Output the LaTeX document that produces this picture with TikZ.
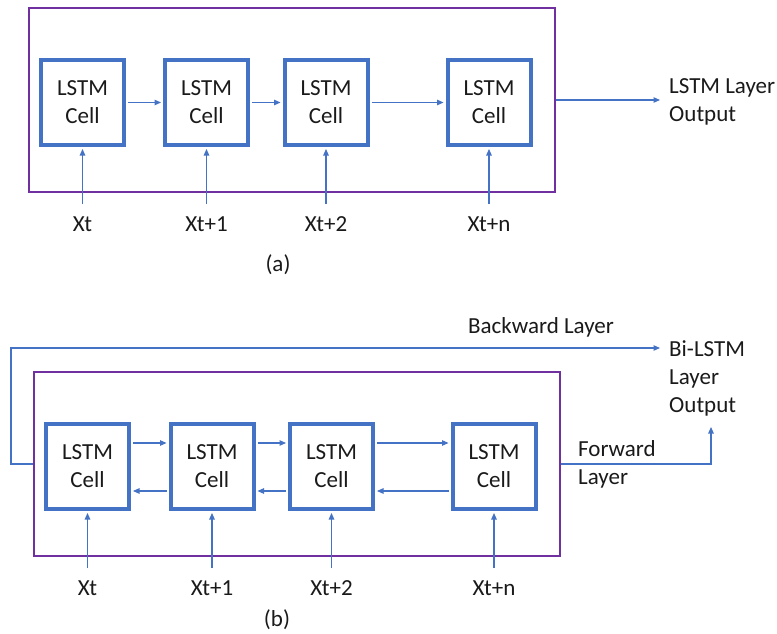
\documentclass[tikz,border=0pt]{standalone}
\usepackage{fontspec}
\setmainfont{Carlito}
\usetikzlibrary{arrows.meta}
\definecolor{cellblue}{HTML}{4472C4}
\definecolor{boxpurple}{HTML}{7030A0}
\definecolor{inkgray}{HTML}{1A1A1A}
\begin{document}
\begin{tikzpicture}[x=1pt,y=-1pt,
  font=\fontsize{23}{28}\selectfont,
  cellbox/.style={draw=cellblue, line width=4pt, minimum width=83pt,
    minimum height=85pt, align=center, inner sep=0pt, text=inkgray},
  layerbox/.style={draw=boxpurple, line width=1.8pt, minimum width=526pt,
    minimum height=184pt, inner sep=0pt},
  flow/.style={draw=cellblue, line width=1.2pt,
    -{Triangle[length=6.5pt,width=5.5pt]}},
  lbl/.style={text=inkgray, inner sep=0pt}]
\useasboundingbox[fill=white] (0,0) rectangle (777,634);

% ---------- (a) unidirectional LSTM layer ----------
\node[layerbox] (boxa) at (292,100) {};
\node[cellbox] (a1) at (82.5,102.5) {LSTM\\Cell};
\node[cellbox] (a2) at (206.5,102.5) {LSTM\\Cell};
\node[cellbox] (a3) at (326,102.5) {LSTM\\Cell};
\node[cellbox] (a4) at (489,102.5) {LSTM\\Cell};

\draw[flow, shorten <=2pt, shorten >=2pt] (a1.east) -- (a2.west);
\draw[flow, shorten <=2pt, shorten >=2pt] (a2.east) -- (a3.west);
\draw[flow, shorten <=2pt, shorten >=2pt] (a3.east) -- (a4.west);

\foreach \c/\x/\t in {a1/82.5/Xt, a2/206.5/Xt+1, a3/326/Xt+2, a4/489/Xt+n}{
  \coordinate (in\c) at (\x,204);
  \draw[flow, shorten >=2pt] (in\c) -- (\c.south);
  \node[lbl] (x\c) at (\x,224) {\t};
}

\node[lbl, anchor=west, align=left] (outa) at (669,102) {LSTM Layer\\Output};
\draw[flow, shorten >=9pt] (boxa.east) -- (boxa.east -| outa.west);
\node[lbl] (capa) at (278,265) {(a)};

% ---------- (b) bidirectional LSTM layer ----------
\node[layerbox] (boxb) at (297,464) {};
\node[cellbox] (b1) at (87.5,466.5) {LSTM\\Cell};
\node[cellbox] (b2) at (212,466.5) {LSTM\\Cell};
\node[cellbox] (b3) at (331.5,466.5) {LSTM\\Cell};
\node[cellbox] (b4) at (494,466.5) {LSTM\\Cell};

% forward direction (upper arrows) and backward direction (lower arrows)
\foreach \p/\q in {b1/b2, b2/b3, b3/b4}{
  \draw[flow, shorten <=2pt, shorten >=2pt]
    ([yshift=23.5pt]\p.east) -- ([yshift=23.5pt]\q.west);
  \draw[flow, shorten <=2pt, shorten >=2pt]
    ([yshift=-24.5pt]\q.west) -- ([yshift=-24.5pt]\p.east);
}

\foreach \c/\x/\t in {b1/87.5/Xt, b2/212/Xt+1, b3/331.5/Xt+2, b4/494/Xt+n}{
  \coordinate (in\c) at (\x,568);
  \draw[flow, shorten >=2pt] (in\c) -- (\c.south);
  \node[lbl] (x\c) at (\x,588) {\t};
}

\node[lbl, anchor=west, align=left] (outb) at (669,378) {Bi-LSTM\\Layer\\Output};

% backward layer loop round the left and over the top
\coordinate (bwlow) at (11,464);
\coordinate (bwtop) at (11,348);
\draw[flow, shorten >=9pt] (boxb.west) -- (bwlow) -- (bwtop) -- (bwtop -| outb.west);
\node[lbl] (bwlabel) at (541,327) {Backward Layer};

% forward layer out of the right side and up to the output
\coordinate (fwbend) at (711,464);
\coordinate (fwtip) at (711,427);
\draw[flow] (boxb.east) -- (fwbend) -- (fwtip);
\node[lbl, anchor=west, align=left] (fwlabel) at (578,464) {Forward\\Layer};

\node[lbl] (capb) at (277,620) {(b)};
\end{tikzpicture}
\end{document}
